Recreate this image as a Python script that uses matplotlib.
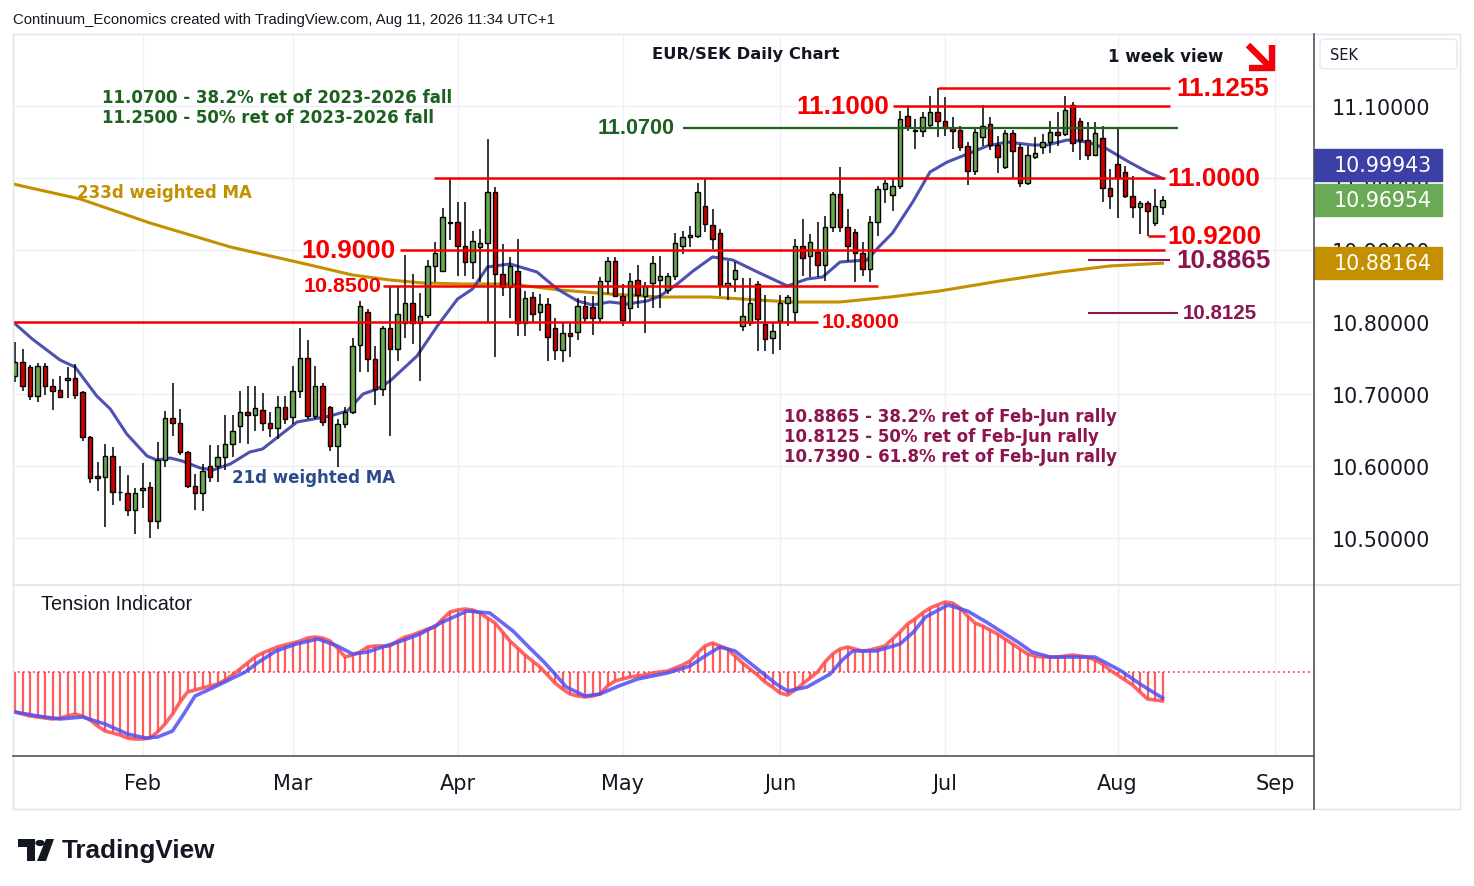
import numpy as np
import pandas as pd
import matplotlib
matplotlib.use("Agg")
import matplotlib.pyplot as plt
from matplotlib.patches import Rectangle, FancyBboxPatch, Polygon, Circle

# EUR/SEK daily candles (Jan 8 - Aug 11 2026)
start_date = "2026-01-08"
opens = [10.7250, 10.7444, 10.7375, 10.6972, 10.7389, 10.7111, 10.7056, 10.7194, 10.7222, 10.7028,
         10.6403, 10.5861, 10.5847, 10.6139, 10.5639, 10.5625, 10.5389, 10.5667, 10.5708, 10.5236,
         10.6083, 10.6667, 10.6597, 10.6194, 10.5722, 10.5625, 10.6000, 10.6000, 10.6125, 10.6306,
         10.6556, 10.6750, 10.6708, 10.6778, 10.6597, 10.6528, 10.6819, 10.6681, 10.7042, 10.7500,
         10.6694, 10.7111, 10.6819, 10.6278, 10.6583, 10.6750, 10.7681, 10.8139, 10.7486, 10.7069,
         10.7917, 10.7625, 10.7986, 10.8264, 10.7986, 10.8097, 10.8778, 10.8708, 10.9375, 10.9389,
         10.9056, 10.8833, 10.9042, 10.9097, 10.9806, 10.8667, 10.8486, 10.8708, 10.7986, 10.8347,
         10.8139, 10.8250, 10.7917, 10.7611, 10.7847, 10.7861, 10.8222, 10.8208, 10.8056, 10.8569,
         10.8847, 10.8361, 10.8194, 10.8583, 10.8361, 10.8542, 10.8583, 10.8444, 10.8639, 10.9056,
         10.9181, 10.9194, 10.9611, 10.9347, 10.9236, 10.8500, 10.8597, 10.7944, 10.7986, 10.8528,
         10.7972, 10.7778, 10.8014, 10.8264, 10.8139, 10.9056, 10.8917, 10.8972, 10.8792, 10.9319,
         10.9778, 10.9319, 10.9250, 10.8958, 10.8736, 10.9389, 10.9847, 10.9764, 10.9889, 11.0861,
         11.0667, 11.0653, 11.0736, 11.0917, 11.0792, 11.0694, 11.0667, 11.0444, 11.0097, 11.0569,
         11.0750, 11.0458, 11.0153, 11.0625, 11.0431, 10.9931, 11.0292, 11.0431, 11.0500, 11.0639,
         11.0611, 11.1014, 11.0792, 11.0528, 11.0319, 11.0556, 10.9861, 11.0194, 11.0083, 10.9750,
         10.9597, 10.9653, 10.9375, 10.9597]
highs = [10.7722, 10.7625, 10.7403, 10.7431, 10.7431, 10.7208, 10.7250, 10.7375, 10.7417, 10.7042,
         10.6417, 10.6056, 10.6306, 10.6264, 10.6000, 10.5875, 10.5694, 10.6042, 10.5778, 10.6333,
         10.6764, 10.7153, 10.6792, 10.6208, 10.5889, 10.6028, 10.6292, 10.6292, 10.6708, 10.6708,
         10.7042, 10.7111, 10.7111, 10.7014, 10.6750, 10.6972, 10.6972, 10.7389, 10.7917, 10.7750,
         10.7389, 10.7153, 10.6833, 10.6653, 10.6819, 10.7778, 10.8292, 10.8181, 10.7667, 10.7944,
         10.8500, 10.8500, 10.8931, 10.8667, 10.8403, 10.8861, 10.9111, 10.9583, 10.9986, 10.9667,
         10.9667, 10.9264, 10.9292, 11.0542, 10.9875, 10.9083, 10.8903, 10.9153, 10.8431, 10.8417,
         10.8389, 10.8333, 10.8056, 10.8000, 10.8000, 10.8333, 10.8361, 10.8361, 10.8625, 10.8903,
         10.8903, 10.8528, 10.8681, 10.8792, 10.8556, 10.8917, 10.8917, 10.8681, 10.9236, 10.9264,
         10.9333, 10.9931, 11.0000, 10.9569, 10.9292, 10.8847, 10.8833, 10.8611, 10.8611, 10.8569,
         10.8375, 10.8000, 10.8375, 10.8375, 10.9153, 10.9431, 10.9222, 10.9389, 10.9472, 10.9806,
         11.0153, 10.9569, 10.9292, 10.9111, 10.9472, 10.9889, 10.9972, 10.9986, 11.0931, 11.0986,
         11.0819, 11.0917, 11.1139, 11.1255, 11.1125, 11.0847, 11.0722, 11.0500, 11.0681, 11.1014,
         11.0847, 11.0583, 11.0667, 11.0667, 11.0472, 11.0444, 11.0569, 11.0611, 11.0792, 11.0917,
         11.1139, 11.1056, 11.0833, 11.0778, 11.0778, 11.0722, 11.0125, 11.0708, 11.0167, 11.0028,
         10.9681, 10.9681, 10.9847, 10.9750]
lows = [10.7167, 10.7042, 10.6917, 10.6889, 10.6986, 10.6778, 10.6944, 10.6944, 10.6931, 10.6347,
        10.5764, 10.5653, 10.5153, 10.5458, 10.5514, 10.5306, 10.5056, 10.5417, 10.5000, 10.5125,
        10.5986, 10.6417, 10.6153, 10.5694, 10.5389, 10.5375, 10.5778, 10.5778, 10.5944, 10.6125,
        10.6319, 10.6306, 10.6486, 10.6486, 10.6403, 10.6375, 10.6583, 10.6583, 10.6944, 10.6653,
        10.6653, 10.6556, 10.6208, 10.5986, 10.6528, 10.6722, 10.7306, 10.7306, 10.6847, 10.6972,
        10.6417, 10.7458, 10.7778, 10.7694, 10.7181, 10.8056, 10.8556, 10.8694, 10.9139, 10.8639,
        10.8639, 10.8597, 10.8556, 10.8000, 10.7514, 10.8361, 10.8056, 10.7806, 10.7806, 10.7986,
        10.7875, 10.7458, 10.7472, 10.7444, 10.7514, 10.7750, 10.8000, 10.7819, 10.8000, 10.8389,
        10.8347, 10.7944, 10.8000, 10.8194, 10.7847, 10.8194, 10.8194, 10.8389, 10.8583, 10.8944,
        10.9042, 10.9167, 10.9250, 10.9014, 10.8361, 10.8306, 10.8417, 10.7875, 10.7944, 10.7597,
        10.7597, 10.7556, 10.7611, 10.7944, 10.8000, 10.8639, 10.8625, 10.8625, 10.8569, 10.9250,
        10.9250, 10.8847, 10.8556, 10.8639, 10.8556, 10.9194, 10.9653, 10.9542, 10.9847, 11.0653,
        11.0403, 11.0569, 11.0708, 11.0569, 11.0583, 11.0403, 11.0375, 10.9903, 11.0042, 11.0444,
        11.0389, 11.0069, 11.0125, 10.9986, 10.9875, 10.9903, 11.0264, 11.0333, 11.0347, 11.0444,
        11.0583, 11.0361, 11.0250, 11.0250, 11.0306, 10.9667, 10.9569, 10.9444, 10.9722, 10.9444,
        10.9222, 10.9200, 10.9333, 10.9486]
closes = [10.7444, 10.7111, 10.6972, 10.7389, 10.7111, 10.7042, 10.6958, 10.7222, 10.6986, 10.6403,
          10.5833, 10.5833, 10.6139, 10.5639, 10.5633, 10.5389, 10.5625, 10.5694, 10.5236, 10.6083,
          10.6667, 10.6597, 10.6194, 10.5722, 10.5625, 10.5931, 10.5847, 10.6125, 10.6306, 10.6486,
          10.6750, 10.6708, 10.6806, 10.6597, 10.6528, 10.6819, 10.6653, 10.7042, 10.7500, 10.6694,
          10.7111, 10.6611, 10.6278, 10.6583, 10.6750, 10.7667, 10.8222, 10.7486, 10.7069, 10.7917,
          10.7625, 10.8111, 10.8264, 10.7986, 10.8083, 10.8778, 10.8958, 10.9458, 10.9380, 10.9056,
          10.8833, 10.9125, 10.9097, 10.9806, 10.8667, 10.8486, 10.8778, 10.7986, 10.8333, 10.8111,
          10.8250, 10.7792, 10.7611, 10.7847, 10.7806, 10.8222, 10.8056, 10.8056, 10.8569, 10.8847,
          10.8361, 10.8028, 10.8569, 10.8375, 10.8500, 10.8819, 10.8639, 10.8639, 10.9097, 10.9181,
          10.9208, 10.9806, 10.9361, 10.9153, 10.8514, 10.8542, 10.8722, 10.8083, 10.8264, 10.8042,
          10.7764, 10.7875, 10.8264, 10.8347, 10.9056, 10.8889, 10.9111, 10.8792, 10.9319, 10.9778,
          10.9319, 10.9056, 10.8958, 10.8736, 10.9389, 10.9847, 10.9931, 10.9889, 11.0819, 11.0708,
          11.0653, 11.0847, 11.0917, 11.0792, 11.0694, 11.0653, 11.0431, 11.0097, 11.0639, 11.0722,
          11.0458, 11.0292, 11.0625, 11.0375, 10.9931, 11.0319, 11.0347, 11.0500, 11.0639, 11.0597,
          11.0944, 11.0486, 11.0528, 11.0319, 11.0625, 10.9861, 10.9750, 11.0000, 10.9750, 10.9597,
          10.9653, 10.9542, 10.9611, 10.96954]

# moving averages read at points along the lines (bar index, price)
ma21_bar = [-0.27, 2.3, 6, 8, 10.9, 12.7, 14.9, 17.6, 18.9, 20.7, 22.3, 24.7, 26.4, 28.7, 31.3, 33,
            37.6, 42, 44.3, 46.4, 48.3, 50, 53.6, 56.3, 59, 61, 63, 66, 69.6, 72.3, 75, 77, 79.3,
            81.6, 84.3, 86, 88.3, 90.4, 93, 95.7, 99, 103, 105.6, 107.7, 110, 113.6, 115.3, 117,
            119.7, 122, 124.3, 127, 129.6, 132.3, 135.7, 137.6, 140.3, 143, 145.6, 148.3, 151, 153]
ma21_val = [10.8000, 10.7764, 10.7472, 10.7375, 10.6972, 10.6792, 10.6444, 10.6139, 10.6083, 10.6111,
            10.6069, 10.5972, 10.5944, 10.6028, 10.6194, 10.6236, 10.6611, 10.6694, 10.6764, 10.7000,
            10.7069, 10.7181, 10.7528, 10.7944, 10.8319, 10.8458, 10.8764, 10.8806, 10.8694, 10.8458,
            10.8292, 10.8236, 10.8278, 10.8250, 10.8292, 10.8361, 10.8528, 10.8708, 10.8903, 10.8861,
            10.8694, 10.8500, 10.8597, 10.8625, 10.8833, 10.8861, 10.9056, 10.9236, 10.9667, 11.0083,
            11.0222, 11.0333, 11.0444, 11.0500, 11.0458, 11.0458, 11.0528, 11.0500, 11.0403, 11.0236,
            11.0083, 10.99943]
ma233_bar = [-0.27, 8.7, 18, 28.7, 37.6, 45, 50, 54.4, 59.7, 66, 72.7, 79.3, 86, 92.7, 99, 103.3,
             110, 116.7, 123.3, 131.3, 139.3, 146, 153]
ma233_val = [10.9917, 10.9708, 10.9375, 10.9042, 10.8833, 10.8653, 10.8583, 10.8542, 10.8528, 10.8528,
             10.8444, 10.8389, 10.8347, 10.8347, 10.8306, 10.8278, 10.8278, 10.8347, 10.8431, 10.8569,
             10.8694, 10.8778, 10.88164]

# tension indicator (arbitrary units), one value per bar, plus its signal line
tension = [-40, -42, -44, -45, -46, -47, -46, -44, -42, -44, -48, -54, -59, -61, -63, -66, -67, -67,
           -66, -60, -52, -42, -30, -20, -18, -16, -14, -12, -8, -3, 3, 9, 15, 19, 22, 25, 27, 29,
           31, 34, 35, 34, 31, 24, 15, 17, 20, 25, 26, 26, 26, 31, 35, 37, 40, 43, 45, 53, 60, 62,
           63, 62, 59, 54, 49, 40, 31, 24, 17, 11, 5, -3, -11, -17, -22, -24, -25, -24, -22, -14,
           -9, -7, -5, -4, -3, -1, 0, 1, 4, 7, 11, 19, 26, 29, 26, 23, 16, 9, 3, -3, -10, -15, -21,
           -23, -18, -12, -6, 0, 10, 18, 23, 25, 23, 21, 22, 24, 26, 33, 40, 48, 53, 59, 64, 67,
           70, 69, 64, 56, 49, 46, 42, 38, 33, 28, 23, 18, 16, 15, 15, 15, 16, 17, 16, 15, 12, 8,
           2, -3, -8, -13, -20, -27, -28, -29]
signal_bar = [0, 3, 6, 9, 12, 15, 17.4, 19, 21, 22.5, 24, 26.6, 28.5, 30.7, 32.5, 34.8, 37.5, 40.4,
              43, 45, 47, 49, 51.5, 54, 57, 60.3, 63.3, 66.4, 68.5, 70.4, 72, 73.5, 76, 78, 80.5, 83,
              87, 90, 92, 94, 96, 98, 99.5, 101.5, 103, 105.6, 108.7, 110.3, 111.7, 114.8, 118,
              119.8, 121.4, 124.4, 127, 129.5, 131.6, 133.7, 135.6, 138, 144, 147.5, 150, 153]
signal_val = [-40, -44, -47, -45, -52, -62, -66, -65, -59, -42, -24, -15, -8, 0, 10, 21, 28, 33,
              26, 18, 20, 25, 31, 38, 50, 61, 59, 41, 25, 11, -2, -15, -24, -22, -14, -7, -1, 6,
              16, 25, 21, 9, 0, -12, -19, -15, -2, 12, 21, 21, 28, 40, 55, 67, 61, 50, 40, 30, 20,
              15, 15, 1, -12, -26]

red_levels = [11.1255, 11.1000, 11.0000, 10.9200, 10.9000, 10.8500, 10.8000]
green_levels = [11.0700]
maroon_levels = [10.8865, 10.8125]
green_notes = ["11.0700 - 38.2% ret of 2023-2026 fall", "11.2500 - 50% ret of 2023-2026 fall"]
maroon_notes = ["10.8865 - 38.2% ret of Feb-Jun rally", "10.8125 - 50% ret of Feb-Jun rally",
                "10.7390 - 61.8% ret of Feb-Jun rally"]
price_ticks = [10.5, 10.6, 10.7, 10.8, 10.9, 11.0, 11.1]

W, H = 1474, 887
UP, DOWN = "#6aa84f", "#cc0000"
RED = "#f50000"
MAROON = "#8c1550"
DKGREEN = "#1e6020"
GOLD = "#c49000"
MABLUE = "#3b3fa6"
GRID = "#edf0f5"


def fx(px):
    return px / W


def fy(py):
    return 1 - py / H


o = np.array(opens)
c = np.array(closes)
hi = np.array(highs)
lo = np.array(lows)
bars = np.arange(len(c))

axis_days = pd.bdate_range(start_date, "2026-09-30")
month_pos = [k for k in range(1, len(axis_days)) if axis_days[k].month != axis_days[k - 1].month]
month_lab = [axis_days[k].strftime("%b") for k in month_pos]

fig = plt.figure(figsize=(W / 100, H / 100), dpi=100)
ax = fig.add_axes([fx(13), fy(586), fx(1314) - fx(13), fy(35) - fy(586)])
ax2 = fig.add_axes([fx(13), fy(757), fx(1314) - fx(13), fy(586) - fy(757)], sharex=ax)

# main pane
ax.set_xlim(-0.27, 173.2)
ax.set_ylim(10.4347, 11.2)
ax.set_yticks(price_ticks)
ax.yaxis.tick_right()
ax.tick_params(axis="y", length=0, pad=13, labelsize=14.8, labelcolor="#131722")
ax.tick_params(axis="x", length=0, labelbottom=False)
ax.yaxis.set_major_formatter(matplotlib.ticker.FormatStrFormatter("%.5f"))
ax.grid(True, color=GRID, lw=1)
ax.set_axisbelow(True)
for s in ax.spines.values():
    s.set_visible(False)

ax.plot(ma233_bar, ma233_val, color=GOLD, lw=2.2, zorder=2)
ax.plot(ma21_bar, ma21_val, color=MABLUE, lw=2.2, alpha=0.9, zorder=2)

up = c >= o
body_lo = np.minimum(o, c)
body_h = np.maximum(np.abs(c - o), 0.0008)
ax.vlines(bars, lo, hi, color="black", lw=1.1, zorder=3)
ax.bar(bars[up], body_h[up], bottom=body_lo[up], width=0.66, color=UP, edgecolor="black", lw=1, zorder=4)
ax.bar(bars[~up], body_h[~up], bottom=body_lo[~up], width=0.66, color=DOWN, edgecolor="black", lw=1, zorder=4)

# support / resistance lines and their labels
red_span = [(123, 154), (117, 154), (55.9, 153.3), (151, 153.3), (51.3, 153.3), (49, 115), (-0.27, 107)]
red_lab = [(154.8, "left", 18.7), (116.5, "right", 18.7), (153.7, "left", 18.7), (153.7, "left", 18.7),
           (50.7, "right", 18.7), (48.8, "right", 15.4), (107.6, "left", 15.4)]
for lvl, (a, b), (tx, ha, fs) in zip(red_levels, red_span, red_lab):
    ax.hlines(lvl, a, b, color=RED, lw=1.8, zorder=5)
    ax.text(tx, lvl, f"{lvl:.4f}", color=RED, fontsize=fs, ha=ha, va="center",
            family="Liberation Sans", weight="bold", zorder=6)
for lvl in green_levels:
    ax.hlines(lvl, 89, 155, color=DKGREEN, lw=1.6, zorder=5)
    ax.text(88, lvl, f"{lvl:.4f}", color=DKGREEN, fontsize=15.5, ha="right", va="center",
            family="Liberation Sans", weight="bold", zorder=6)
maroon_span = [(143, 154), (143, 155)]
maroon_lab = [(154.8, 18.7), (155.7, 14.8)]
for lvl, (a, b), (tx, fs) in zip(maroon_levels, maroon_span, maroon_lab):
    ax.hlines(lvl, a, b, color=MAROON, lw=1.5, zorder=5)
    ax.text(tx, lvl, f"{lvl:.4f}", color=MAROON, fontsize=fs, ha="left", va="center",
            family="Liberation Sans", weight="bold", zorder=6)

# price tags on the right axis
yt = ax.get_yaxis_transform()
tags = [(ma21_val[-1], MABLUE, 0.0185), (closes[-1], "#6aaa55", 0.0), (ma233_val[-1], GOLD, 0.0)]
for val, col, shift in tags:
    ax.add_patch(Rectangle((1.0, val + shift - 0.0222), 0.0984, 0.0444, transform=yt,
                           color=col, clip_on=False, zorder=10))
    ax.text(1.053, val + shift, f"{val:.5f}", transform=yt, color="white", fontsize=14.8,
            ha="center", va="center", clip_on=False, zorder=11)

# tension pane
ax2.set_ylim(-84, 87)
ax2.set_xticks(month_pos)
ax2.set_xticklabels(month_lab)
ax2.tick_params(axis="x", length=0, pad=12, labelsize=15, labelcolor="#131722")
ax2.tick_params(axis="y", left=False, labelleft=False)
ax2.grid(True, axis="x", color=GRID, lw=1)
ax2.set_axisbelow(True)
for s in ax2.spines.values():
    s.set_visible(False)
ax2.axhline(0, color="#ff3030", lw=1.2, ls=(0, (1, 2)), zorder=2)
ax2.vlines(bars, 0, tension, color="#ff4040", lw=1.6, alpha=0.85, zorder=3)
ax2.plot(bars, tension, color="#ff4a4a", lw=2.6, alpha=0.85, zorder=4)
ax2.plot(signal_bar, signal_val, color="#4f4ff5", lw=2.6, alpha=0.85, zorder=5)

# frame lines
fig.add_artist(Rectangle((fx(13), fy(810)), fx(1460) - fx(13), fy(35) - fy(810), transform=fig.transFigure,
                         fill=False, edgecolor="#e0e3eb", lw=1))
fig.add_artist(plt.Line2D([fx(13), fx(1460)], [fy(586), fy(586)], color="#e0e3eb", lw=1.2))
fig.add_artist(plt.Line2D([fx(13), fx(1314)], [fy(757), fy(757)], color="#50535e", lw=1.2))
fig.add_artist(plt.Line2D([fx(1314), fx(1314)], [fy(35), fy(810)], color="#50535e", lw=1.2))

fig.add_artist(FancyBboxPatch((fx(1320), fy(70)), fx(1457) - fx(1320), fy(40) - fy(70),
                              boxstyle="round,pad=0,rounding_size=0.004", transform=fig.transFigure,
                              facecolor="white", edgecolor="#e6e8ee", lw=1))
fig.text(fx(1330), fy(56), "SEK", fontsize=10.5, va="center", color="#131722")

# texts
fig.text(fx(13), fy(20), "Continuum_Economics created with TradingView.com, Aug 11, 2026 11:34 UTC+1",
         fontsize=10.7, family="Liberation Sans", va="center", color="#131722")
fig.text(fx(746), fy(55), "EUR/SEK Daily Chart", fontsize=11.8, weight="bold", ha="center", va="center",
         color="#131722")
fig.text(fx(1108), fy(57), "1 week view", fontsize=12, weight="bold", va="center", color="#131722")

# red "down" arrow: diagonal shaft plus corner head
ARROW = "#f4000a"
fig.add_artist(plt.Line2D([fx(1248), fx(1270)], [fy(46), fy(68)], color=ARROW, lw=4.6,
                          solid_capstyle="butt"))
fig.add_artist(plt.Line2D([fx(1249), fx(1272), fx(1272)], [fy(68.5), fy(68.5), fy(46)], color=ARROW,
                          lw=4.6, solid_capstyle="butt", solid_joinstyle="miter"))

for k, t in enumerate(green_notes):
    fig.text(fx(102), fy(98 + 20 * k), t, fontsize=12, weight="bold", va="center", color=DKGREEN)
for k, t in enumerate(maroon_notes):
    fig.text(fx(784), fy(417 + 20 * k), t, fontsize=12, weight="bold", va="center", color=MAROON)
fig.text(fx(77), fy(193), "233d weighted MA", fontsize=12, weight="bold", va="center", color=GOLD)
fig.text(fx(232), fy(478), "21d weighted MA", fontsize=12, weight="bold", va="center", color="#2c4a8c")
fig.text(fx(41), fy(605), "Tension Indicator", fontsize=14.3, family="Liberation Sans", va="center",
         color="#131722")

# TradingView wordmark
LOGO = "#131722"


def poly(pts):
    fig.add_artist(Polygon([(fx(a), fy(b)) for a, b in pts], closed=True, transform=fig.transFigure,
                           color=LOGO, lw=0))


poly([(18, 840), (35, 840), (35, 862), (27, 862), (27, 848), (18, 848)])
fig.add_artist(Circle((fx(40), fy(844)), 4.0 / W, transform=fig.transFigure, color=LOGO))
poly([(37, 862), (46, 862), (54, 840), (46, 840)])
fig.text(fx(62), fy(851), "TradingView", fontsize=18.8, family="Liberation Sans", weight="bold",
         va="center", color=LOGO)

fig.savefig("out.png", dpi=100)
